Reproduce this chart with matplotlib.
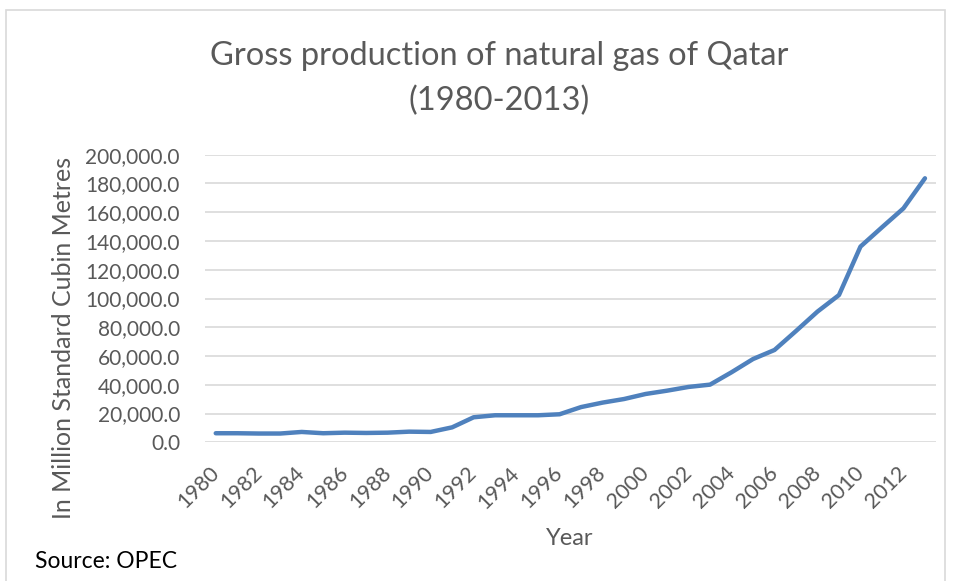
import matplotlib
matplotlib.use('Agg')
import matplotlib.pyplot as plt
from matplotlib.patches import Rectangle
from matplotlib.ticker import FuncFormatter

plt.rcParams['font.family'] = ['Lato', 'DejaVu Sans']

# data
years = list(range(1980, 2014))
production = [6300, 6300, 6100, 6100, 7200, 6300, 6700, 6500, 6700, 7400,
              7200, 10400, 17400, 18800, 18800, 18800, 19500, 24500, 27600, 30100,
              33600, 35900, 38500, 40100, 48700, 57900, 64200, 77400, 90900, 102400,
              136100, 149500, 162700, 183600]
label_years = years[::2]
yticks = list(range(0, 200001, 20000))

grey = '#595959'
W, H = 958, 581


def fx(px):
    return px / W


def fy(py):
    return 1 - py / H


fig = plt.figure(figsize=(9.58, 5.81), dpi=100)
ax = fig.add_axes([fx(205), fy(442.3), (935.7 - 205) / W, (442.3 - 154.7) / H])

ax.plot(years, production, color='#4F81BD', lw=3.2, solid_capstyle='round',
        solid_joinstyle='round', zorder=3)

ax.set_xlim(1979.5, 2013.5)
ax.set_ylim(0, 200000)
ax.set_yticks(yticks)
ax.yaxis.set_major_formatter(FuncFormatter(lambda v, p: '{:,.1f}'.format(v)))
ax.set_xticks(label_years)
ax.set_xticklabels([str(y) for y in label_years])
plt.setp(ax.get_xticklabels(), rotation=45, ha='right', va='center',
         rotation_mode='anchor')
ax.grid(axis='y', color='#D9D9D9', lw=1.2)
ax.set_axisbelow(True)
for s in ax.spines.values():
    s.set_visible(False)
ax.tick_params(axis='y', length=0, labelsize=15, colors=grey, pad=18)
ax.tick_params(axis='x', length=0, labelsize=15.5, colors=grey, pad=20)

# titles, axis titles, source note
fig.text(fx(499), fy(65), 'Gross production of natural gas of Qatar',
         ha='center', va='baseline', fontsize=23.5, color=grey)
fig.text(fx(499), fy(110), '(1980-2013)',
         ha='center', va='baseline', fontsize=23.5, color=grey)
fig.text(fx(570), fy(545), 'Year', ha='center', va='baseline',
         fontsize=17, color=grey)
fig.text(fx(64), fy(338), 'In Million Standard Cubin Metres', ha='center',
         va='center', rotation=90, fontsize=18, color=grey)
fig.text(fx(35), fy(568), 'Source: OPEC', ha='left', va='baseline',
         fontsize=16.5, color='black')

# chart area border
fig.patches.append(Rectangle((fx(6), -0.02), (945 - 6) / W, fy(10) + 0.02,
                             transform=fig.transFigure, fill=False,
                             edgecolor='#D9D9D9', lw=1.2))

fig.savefig('out.png', dpi=100)
